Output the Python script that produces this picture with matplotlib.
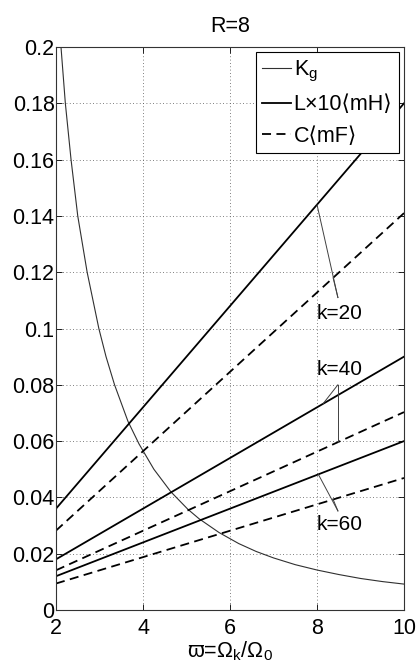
import matplotlib
matplotlib.use('Agg')
import matplotlib.pyplot as plt

plt.rcParams['font.family'] = ['Liberation Sans', 'DejaVu Sans']
plt.rcParams['mathtext.fontset'] = 'custom'
plt.rcParams['mathtext.rm'] = 'Liberation Sans'
plt.rcParams['mathtext.it'] = 'Liberation Sans'
plt.rcParams['mathtext.bf'] = 'Liberation Sans:bold'

# Kg curve, sampled along the relative frequency
w_kg = [2.115, 2.215, 2.346, 2.50, 2.716, 2.985, 3.15, 3.346, 3.655, 3.908,
        4.25, 4.64, 5.03, 5.29, 5.75, 6.2, 6.6, 7.0, 7.5, 8.0, 8.5, 9.0,
        9.5, 10.0]
kg = [0.200, 0.180, 0.160, 0.140, 0.120, 0.100, 0.090, 0.080, 0.0670, 0.0590,
      0.0500, 0.0420, 0.0358, 0.0324, 0.0275, 0.0236, 0.0208, 0.0185, 0.0161,
      0.0142, 0.0126, 0.0112, 0.0101, 0.0092]

# straight lines L*10 (mH) and C (mF) for each k, values at w=2 and w=10
w_ends = [2, 10]
k_values = [20, 40, 60]
L_vals = {20: [0.036, 0.180], 40: [0.018, 0.090], 60: [0.012, 0.060]}
C_vals = {20: [0.0282, 0.141], 40: [0.0141, 0.0703], 60: [0.0094, 0.0469]}

# label position and pointer lines (from the label to the L and C lines)
k_text = {20: (8.0, 0.1055), 40: (8.0, 0.0853), 60: (8.0, 0.0302)}
k_hub = {20: (8.48, 0.111), 40: (8.48, 0.080), 60: (8.48, 0.0352)}
k_on_L = {20: (8.0, 0.144), 40: (8.14, 0.0733), 60: (8.03, 0.0482)}
k_on_C = {20: (8.37, 0.118), 40: (8.48, 0.0596), 60: (8.37, 0.0393)}

fig = plt.figure(figsize=(4.16, 6.66), dpi=100)
ax = fig.add_axes([0.1346, 0.0841, 0.8366, 0.8453])

ln_kg, = ax.plot(w_kg, kg, color='#303030', lw=0.8, label=r'K$_g$')
for k in k_values:
    ln_L, = ax.plot(w_ends, L_vals[k], color='black', lw=1.3,
                    label='L\u00d710\u27e8mH\u27e9')
    ln_C, = ax.plot(w_ends, C_vals[k], color='black', lw=1.3,
                    ls=(0, (5, 3)), label='C\u27e8mF\u27e9')

for k in k_values:
    hx, hy = k_hub[k]
    for px, py in (k_on_L[k], k_on_C[k]):
        ax.plot([hx, px], [hy, py], color='#404040', lw=0.7)
    tx, ty = k_text[k]
    ax.text(tx, ty, f'k={k}', fontsize=15, ha='left', va='center')

ax.set_xlim(2, 10)
ax.set_ylim(0, 0.2)
ax.set_xticks([2, 4, 6, 8, 10])
ax.set_yticks([0, 0.02, 0.04, 0.06, 0.08, 0.1, 0.12, 0.14, 0.16, 0.18, 0.2])
ax.set_yticklabels(['0', '0.02', '0.04', '0.06', '0.08', '0.1', '0.12',
                    '0.14', '0.16', '0.18', '0.2'])
ax.tick_params(direction='in', length=4, width=0.6, labelsize=15.5,
               top=True, right=True)
ax.tick_params(axis='x', pad=6)
ax.tick_params(axis='y', pad=1)
ax.grid(True, color='#555555', ls=(0, (1, 3)), lw=0.6)
for sp in ax.spines.values():
    sp.set_color('#333333')
    sp.set_linewidth(0.8)

ax.set_title('R=8', fontsize=15.5, pad=11)
ax.set_xlabel(r'$\varpi$=$\Omega_k$/$\Omega_0$', fontsize=15.5, labelpad=0)

leg = ax.legend(handles=[ln_kg, ln_L, ln_C], loc='upper right', fontsize=15.5,
                frameon=True, fancybox=False, edgecolor='black', framealpha=1,
                borderaxespad=0.25, handlelength=1.35, handletextpad=0.1,
                labelspacing=0.48, borderpad=0.3)
leg.get_frame().set_linewidth(0.8)

fig.savefig('out.png', dpi=100)
